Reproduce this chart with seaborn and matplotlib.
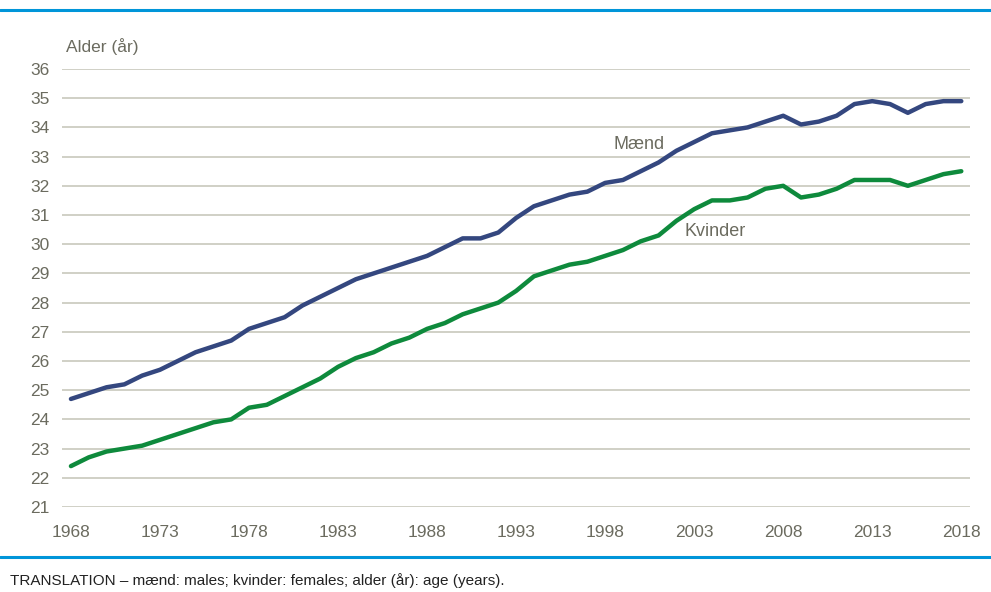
import numpy as np
import pandas as pd
import seaborn as sns
import matplotlib.pyplot as plt
from matplotlib.lines import Line2D

# --- Data ---
years = list(range(1968, 2019))
maend = [24.7, 24.9, 25.1, 25.2, 25.5, 25.7, 26.0, 26.3, 26.5, 26.7,
         27.1, 27.3, 27.5, 27.9, 28.2, 28.5, 28.8, 29.0, 29.2, 29.4,
         29.6, 29.9, 30.2, 30.2, 30.4, 30.9, 31.3, 31.5, 31.7, 31.8,
         32.1, 32.2, 32.5, 32.8, 33.2, 33.5, 33.8, 33.9, 34.0, 34.2,
         34.4, 34.1, 34.2, 34.4, 34.8, 34.9, 34.8, 34.5, 34.8, 34.9,
         34.9]
kvinder = [22.4, 22.7, 22.9, 23.0, 23.1, 23.3, 23.5, 23.7, 23.9, 24.0,
           24.4, 24.5, 24.8, 25.1, 25.4, 25.8, 26.1, 26.3, 26.6, 26.8,
           27.1, 27.3, 27.6, 27.8, 28.0, 28.4, 28.9, 29.1, 29.3, 29.4,
           29.6, 29.8, 30.1, 30.3, 30.8, 31.2, 31.5, 31.5, 31.6, 31.9,
           32.0, 31.6, 31.7, 31.9, 32.2, 32.2, 32.2, 32.0, 32.2, 32.4,
           32.5]
series_names = ['Mænd', 'Kvinder']
x_ticks = list(range(1968, 2019, 5))
y_ticks = list(range(21, 37))

df = pd.DataFrame({'year': years, 'Mænd': maend, 'Kvinder': kvinder})
df_long = df.melt(id_vars='year', var_name='serie', value_name='alder')

# --- Style ---
sns.set_style('white')
plt.rcParams['font.family'] = ['Liberation Sans Narrow', 'Liberation Sans', 'DejaVu Sans']
TEXT = '#6b6b5f'
GRID = '#c8c8bc'
RULE = '#0095d9'
palette = {'Mænd': '#34477f', 'Kvinder': '#0e8a3c'}

fig = plt.figure(figsize=(9.91, 5.92), dpi=100)
ax = fig.add_axes([0.0626, 0.1436, 0.9164, 0.7398])

sns.lineplot(data=df_long, x='year', y='alder', hue='serie', hue_order=series_names,
             palette=palette, linewidth=3.2, legend=False, ax=ax, zorder=3)

ax.set_xlim(1967.5, 2018.5)
ax.set_ylim(21, 36)
ax.set_xticks(x_ticks)
ax.set_yticks(y_ticks)
ax.grid(axis='y', color=GRID, linewidth=1.2)
ax.grid(axis='x', visible=False)
sns.despine(ax=ax, left=True, bottom=True)
ax.tick_params(axis='both', length=0, labelsize=12.5, labelcolor=TEXT)
ax.tick_params(axis='y', pad=9)
ax.tick_params(axis='x', pad=13)
ax.set_xlabel('')
ax.set_ylabel('')

ax.text(1998.45, 33.4, 'Mænd', color=TEXT, fontsize=13, va='center', ha='left')
ax.text(2002.45, 30.45, 'Kvinder', color=TEXT, fontsize=13, va='center', ha='left')
fig.text(0.067, 0.921, 'Alder (år)', color=TEXT, fontsize=12.5, va='center', ha='left')

# blue rules top and bottom
fig.add_artist(Line2D([0, 1], [0.983, 0.983], color=RULE, linewidth=2.2, transform=fig.transFigure))
fig.add_artist(Line2D([0, 1], [0.059, 0.059], color=RULE, linewidth=2.2, transform=fig.transFigure))
fig.text(0.01, 0.02, 'TRANSLATION – mænd: males; kvinder: females; alder (år): age (years).',
         color='#222222', fontsize=11, va='center', ha='left')

fig.savefig('out.png', dpi=100)
